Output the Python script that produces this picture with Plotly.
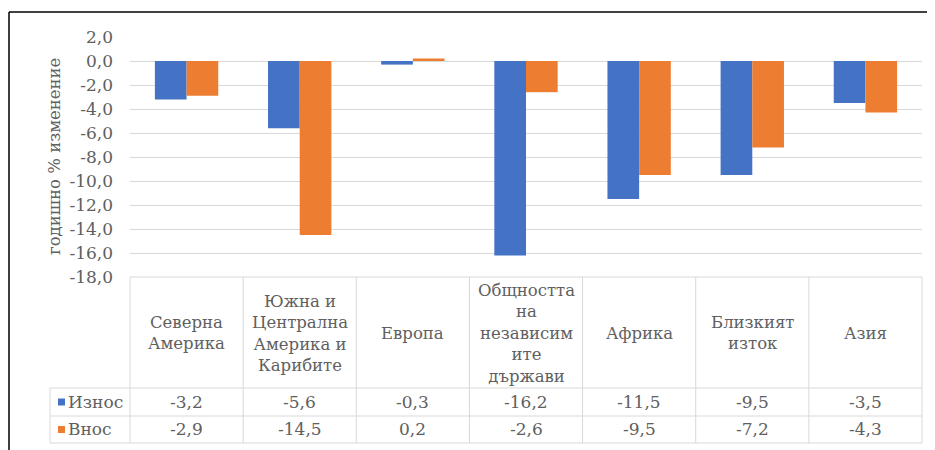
import plotly.graph_objects as go

# ---------------- data ----------------
categories = ["Северна Америка", "Южна и Централна Америка и Карибите", "Европа",
              "Общността на независимите държави", "Африка", "Близкият изток", "Азия"]
header_labels = ["Северна<br>Америка", "Южна и<br>Централна<br>Америка и<br>Карибите", "Европа",
                 "Общността<br>на<br>независим<br>ите<br>държави", "Африка", "Близкият<br>изток", "Азия"]
export_vals = [-3.2, -5.6, -0.3, -16.2, -11.5, -9.5, -3.5]
import_vals = [-2.9, -14.5, 0.2, -2.6, -9.5, -7.2, -4.3]
series_names = ["Износ", "Внос"]
series_colors = ["#4472C4", "#ED7D31"]
y_tickvals = [2, 0, -2, -4, -6, -8, -10, -12, -14, -16, -18]
y_ticktext = ["2,0", "0,0", "-2,0", "-4,0", "-6,0", "-8,0", "-10,0", "-12,0", "-14,0", "-16,0", "-18,0"]
y_title = "годишно % изменение"

# ---------------- layout geometry ----------------
OFF = 8  # page body margin offset
W, H = 935, 450
L = 130 - OFF
T = 37 - OFF
R = W - (922 - OFF)
B = H - (277 - OFF)
PW, PH = W - L - R, H - T - B
FONT = "DejaVu Serif"
TXT = "#606060"
GRID = "#D9D9D9"
FS = 17


def px_x(p):
    return (p - OFF - L) / PW


def px_y(p):
    return (H - B - (p - OFF)) / PH


fig = go.Figure()
for name, vals, col in zip(series_names, [export_vals, import_vals], series_colors):
    fig.add_trace(go.Bar(x=categories, y=vals, name=name, marker=dict(color=col, line=dict(width=0)),
                         showlegend=False, hoverinfo="skip"))

n = len(categories)
row_tops = [388, 416, 443]
shapes = []
shapes.append(dict(type="line", xref="paper", yref="paper", x0=0, x1=1, y0=0, y1=0,
                   line=dict(color=GRID, width=1)))
for i in range(n + 1):
    shapes.append(dict(type="line", xref="paper", yref="paper", x0=i / n, x1=i / n,
                       y0=0, y1=px_y(443), line=dict(color=GRID, width=1)))
for r in row_tops:
    shapes.append(dict(type="line", xref="paper", yref="paper", x0=px_x(50), x1=1,
                       y0=px_y(r), y1=px_y(r), line=dict(color=GRID, width=1)))
shapes.append(dict(type="line", xref="paper", yref="paper", x0=px_x(50), x1=px_x(50),
                   y0=px_y(388), y1=px_y(443), line=dict(color=GRID, width=1)))
row_centers = [402, 429.5]
for rc, col in zip(row_centers, series_colors):
    shapes.append(dict(type="rect", xref="paper", yref="paper", x0=px_x(58), x1=px_x(65),
                       y0=px_y(rc + 3.5), y1=px_y(rc - 3.5), fillcolor=col, line=dict(width=0)))
# outer frame (top and left edges)
shapes.append(dict(type="line", xref="paper", yref="paper", x0=px_x(9), x1=px_x(945),
                   y0=px_y(12), y1=px_y(12), line=dict(color="black", width=1.5)))
shapes.append(dict(type="line", xref="paper", yref="paper", x0=px_x(9), x1=px_x(9),
                   y0=px_y(12), y1=px_y(460), line=dict(color="black", width=1.5)))

annotations = []
for cat, lab in zip(categories, header_labels):
    annotations.append(dict(x=cat, xref="x", y=px_y(333), yref="paper", text=lab,
                            showarrow=False, xanchor="center", yanchor="middle",
                            font=dict(family=FONT, size=16.5, color=TXT)))
for vals, rc, name in zip([export_vals, import_vals], row_centers, series_names):
    for cat, v in zip(categories, vals):
        annotations.append(dict(x=cat, xref="x", y=px_y(rc), yref="paper",
                                text=f"{v:.1f}".replace(".", ","), showarrow=False,
                                xanchor="center", yanchor="middle",
                                font=dict(family=FONT, size=FS, color=TXT)))
    annotations.append(dict(x=px_x(66), xref="paper", y=px_y(rc), yref="paper", text=name,
                            showarrow=False, xanchor="left", yanchor="middle",
                            font=dict(family=FONT, size=FS, color=TXT)))
annotations.append(dict(x=px_x(54), xref="paper", y=0.5, yref="paper", text=y_title,
                        textangle=-90, showarrow=False, xanchor="center", yanchor="middle",
                        font=dict(family=FONT, size=16.5, color=TXT)))

fig.update_layout(
    width=W, height=H,
    margin=dict(l=L, r=R, t=T, b=B, autoexpand=False),
    paper_bgcolor="white", plot_bgcolor="white",
    barmode="group", bargap=0.44, bargroupgap=0,
    shapes=shapes, annotations=annotations,
    xaxis=dict(type="category", range=[-0.5, n - 0.5], showticklabels=False, showgrid=False,
               zeroline=False, showline=False, ticks=""),
    yaxis=dict(range=[-18, 2], tickvals=y_tickvals, ticktext=y_ticktext, showgrid=True,
               gridcolor=GRID, gridwidth=1, zeroline=False, showline=False, ticks="",
               ticklabelstandoff=16,
               tickfont=dict(family=FONT, size=FS, color=TXT)),
)

fig.write_html("out.html")
